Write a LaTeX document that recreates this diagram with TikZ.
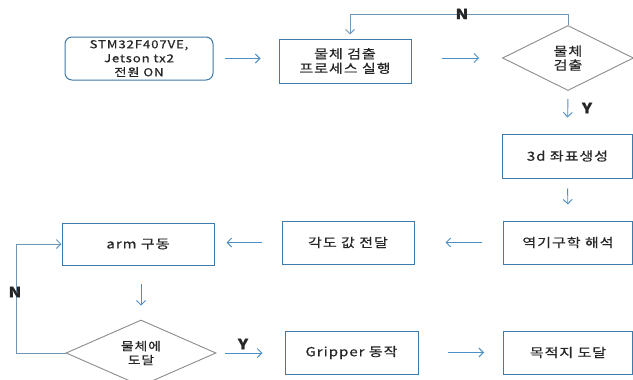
\documentclass[tikz,border=0pt]{standalone}
\usepackage{fontspec}
\setmainfont{Noto Sans CJK KR}[FakeStretch=1.2,LetterSpace=8,FakeBold=0.5]
\usetikzlibrary{shapes.geometric,arrows.meta}
\definecolor{boxc}{HTML}{3E7BAA}
\definecolor{arrc}{HTML}{4F8FC7}
\definecolor{loopc}{HTML}{6E96B8}
\definecolor{dia}{HTML}{8C8C8C}
\definecolor{txt}{HTML}{262626}
\tikzset{
  procbox/.style={draw=boxc, line width=1pt, minimum width=#1, minimum height=43pt, inner sep=0pt, text=txt, align=center, font=\fontsize{12.5}{15}\selectfont},
  decbox/.style={draw=dia, line width=0.9pt, diamond, minimum width=#1, inner sep=0pt, text=txt, align=center},
  arr/.style={draw=arrc, line width=0.9pt, -{Straight Barb[length=4.5pt,width=9pt]}},
  loopline/.style={draw=loopc, line width=0.9pt},
  lbl/.style={font=\fontsize{14}{14}\selectfont\bfseries, text=txt, inner sep=0pt},
}
\begin{document}
\begin{tikzpicture}[x=1pt,y=-1pt]
\useasboundingbox (0,0) rectangle (633,380);
\fill[white] (0,0) rectangle (633,380);
% nodes
\node[procbox=148pt, rounded corners=7pt, font=\fontsize{11}{14}\selectfont] (start) at (139,58.5) {STM32F407VE,\\Jetson tx2\\전원 ON};
\node[procbox=132pt, minimum height=44pt, font=\fontsize{12.5}{14.5}\selectfont] (p1) at (345,61) {물체 검출\\프로세스 실행};
\node[decbox=131pt, minimum height=65pt, font=\fontsize{12.5}{14}\selectfont] (d1) at (568,58) {물체\\검출};
\node[procbox=130pt, minimum height=44pt] (p3d) at (567.5,156) {3d 좌표생성};
\node[procbox=129pt] (ik) at (568,242.5) {역기구학 해석};
\node[procbox=132pt] (ang) at (348,242.5) {각도 값 전달};
\node[procbox=152pt, minimum height=42pt] (arm) at (138,244) {arm 구동};
\node[decbox=150pt, minimum height=66pt, font=\fontsize{11.5}{14}\selectfont] (d2) at (141,353) {물체에\\도달};
\node[procbox=133pt] (grip) at (351.5,352.5) {Gripper 동작};
\node[procbox=129pt] (dest) at (568,352.5) {목적지 도달};
% arrows
\draw[arr, shorten <=11pt, shorten >=18pt] (start.east) -- (start.east -| p1.west);
\draw[arr, shorten <=30pt, shorten >=23pt] (p1.east |- d1.west) -- (d1.west);
\draw[arr, shorten <=8pt, shorten >=16pt] (d1.south) -- (p3d.north);
\draw[arr, shorten <=10pt, shorten >=16pt] (p3d.south) -- (ik.north);
\draw[arr, shorten <=21pt, shorten >=31pt] (ik.west) -- (ik.west -| ang.east);
\draw[arr, shorten <=20pt, shorten >=12pt] (ang.west) -- (ang.west -| arm.east);
\draw[arr, shorten <=18pt, shorten >=14pt] (arm.south -| d2.north) -- (d2.north);
\draw[arr, shorten <=9pt, shorten >=22pt] (d2.east) -- (d2.east -| grip.west);
\draw[arr, shorten <=29pt, shorten >=19pt] (grip.east) -- (grip.east -| dest.west);
% loops
\coordinate (topy) at (0,14);
\coordinate (p1in) at ([xshift=5pt]p1.north);
\draw[loopline] (d1.north) -- (d1.north |- topy) -- (p1in |- topy);
\draw[arr, draw=loopc, shorten >=4pt] (p1in |- topy) -- (p1in);
\coordinate (lefx) at (16,0);
\draw[loopline] (d2.west) -- (d2.west -| lefx) -- (lefx |- arm.west);
\draw[arr, draw=loopc] (lefx |- arm.west) -- (arm.west);
% labels
\node[lbl] (nTop) at (462,14) {N};
\node[lbl] (yTop) at (587,108) {Y};
\node[lbl] (nLeft) at (15,292) {N};
\node[lbl] (yBot) at (243,344) {Y};
\end{tikzpicture}
\end{document}
